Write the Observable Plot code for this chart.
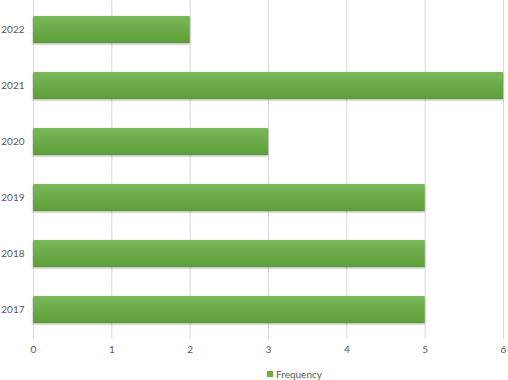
<!DOCTYPE html>
<html>
<head>
<meta charset="utf-8">
<script src="https://cdn.jsdelivr.net/npm/d3@7"></script>
<script src="https://cdn.jsdelivr.net/npm/@observablehq/plot@0.6"></script>
<style>
  html, body { margin: 0; padding: 0; background: #fff; }
  body { width: 508px; height: 380px; overflow: hidden; position: relative; font-family: Lato, "Open Sans", sans-serif; }
  #legend { position: absolute; left: 267px; top: 368px; display: flex; align-items: center; font-size: 10px; color: #595959; }
  #legend span.sw { display: inline-block; width: 6px; height: 6px; background: #6aab45; margin-right: 3px; }
</style>
</head>
<body>
<div id="chart"></div>
<div id="legend"><span class="sw"></span><span>Frequency</span></div>
<script>
const years = ["2017", "2018", "2019", "2020", "2021", "2022"];
const frequency = [5, 5, 5, 3, 6, 2];
const seriesName = "Frequency";
const xTicks = [0, 1, 2, 3, 4, 5, 6];

const data = years.map((y, i) => ({ year: y, value: frequency[i] }));

const chart = Plot.plot({
  width: 508,
  height: 362,
  marginLeft: 33,
  marginRight: 5,
  marginTop: 0,
  marginBottom: 23,
  style: { fontFamily: "Lato, 'Open Sans', sans-serif", fontSize: "10px", color: "#595959", background: "#fff" },
  x: { domain: [0, 6], ticks: xTicks, tickFormat: d3.format("d"), label: null, tickSize: 0, tickPadding: 6 },
  y: { domain: years.slice().reverse(), paddingInner: 0.52, paddingOuter: 0.26, label: null, tickSize: 0, tickPadding: 9 },
  marks: [
    Plot.ruleX(xTicks, { stroke: "#d9d9d9", strokeWidth: 1 }),
    Plot.barX(data, { x: "value", y: "year", fill: "url(#barGrad)" }),
  ]
});

const svg = d3.select(chart);
const defs = svg.insert("defs", ":first-child");
const g = defs.append("linearGradient").attr("id", "barGrad").attr("x1", 0).attr("y1", 0).attr("x2", 0).attr("y2", 1);
g.append("stop").attr("offset", "0%").attr("stop-color", "#7ab75a");
g.append("stop").attr("offset", "100%").attr("stop-color", "#5c9f37");
svg.selectAll("rect").style("filter", "drop-shadow(0px 1.5px 1px rgba(0,0,0,0.35))");

document.getElementById("chart").appendChild(chart);
document.getElementById("legend").lastChild.textContent = seriesName;
</script>
</body>
</html>
